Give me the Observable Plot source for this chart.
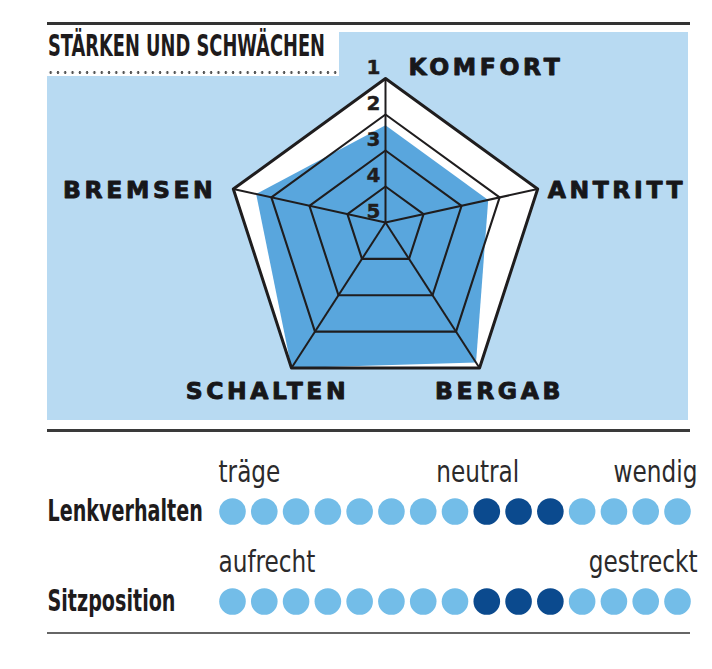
<!DOCTYPE html>
<html><head><meta charset="utf-8">
<script src="https://cdn.jsdelivr.net/npm/d3@7"></script>
<script src="https://cdn.jsdelivr.net/npm/@observablehq/plot@0.6"></script>
<style>
html,body{margin:0;padding:0;background:#fff}
body{width:712px;height:669px;position:relative;overflow:hidden;font-family:"DejaVu Sans",sans-serif}
.rule{position:absolute;left:47px;width:643px;background:#333}
#panel{position:absolute;left:47px;top:32px;width:641px;height:388px;background:#b8daf2}
#titlebox{position:absolute;left:47px;top:30px;width:292px;height:46px;background:#fff}
#title{position:absolute;left:1px;top:-1px;white-space:nowrap;font-family:"DejaVu Sans Condensed","DejaVu Sans",sans-serif;font-stretch:condensed;font-weight:bold;font-size:30px;line-height:34px;color:#1e1b1c;transform-origin:0 0}
#dots{position:absolute;left:0;top:41px;width:291px;height:3px;background-image:radial-gradient(circle,#555 1.1px,transparent 1.5px);background-size:7.3px 3px;background-repeat:repeat-x}
#radar{position:absolute;left:47px;top:32px}
#scales{position:absolute;left:0;top:430px}
</style></head>
<body>
<div class="rule" style="top:22px;height:3px"></div>
<div id="panel"></div>
<div id="radar"></div>
<div id="titlebox"><div id="title">STÄRKEN UND SCHWÄCHEN</div><div id="dots"></div></div>
<div class="rule" style="top:429px;height:3px;background:#3a3a3a"></div>
<div id="scales"></div>
<div class="rule" style="top:632px;height:2px;background:#666"></div>
<script>
// ---- data ----
const categories = ["KOMFORT", "ANTRITT", "BERGAB", "SCHALTEN", "BREMSEN"];
const scores = [2.3, 2.3, 1.15, 1.0, 1.6];          // 1 = best (outer), 5 = centre
const ringValues = [1, 2, 3, 4];                     // drawn pentagon rings
const scaleTicks = [1, 2, 3, 4, 5];                  // numbers on the top spoke
const labelAnchor = ["start", "start", "middle", "middle", "end"];
const labelDx = [23, 10, 20, -24, -17];
const labelDy = [-11, 1.5, 24, 24, 1.5];

const positions = d3.range(1, 16);                   // 15 dots per row
const rows = ["Lenkverhalten", "Sitzposition"];
const lenkMarked = [9, 10, 11];
const sitzMarked = [9, 10, 11];
const lenkPoles = ["träge", "neutral", "wendig"];
const lenkPolePos = [1, 9, 15];
const sitzPoles = ["aufrecht", "gestreckt"];
const sitzPolePos = [1, 15];

// ---- radar geometry ----
const W = 641, H = 388, cx = 338, cy = 190, R = 160;
const shift = -0.1; // spokes meet slightly above pentagon's circumcentre
function pt(k, v) {
  const t = (5 - v) / 4, a = k * 2 * Math.PI / 5;
  return {x: t * Math.sin(a), y: t * (shift + Math.cos(a))};
}
const outer = categories.map((c, k) => ({...pt(k, 1), k, c}));
const ringPts = ringValues.flatMap(v => categories.map((c, k) => ({...pt(k, v), v})));
const scorePts = scores.map((s, k) => pt(k, s));
const tickPts = scaleTicks.map(v => ({...pt(0, v), label: String(v)}));

const radar = Plot.plot({
  width: W, height: H, margin: 0,
  x: {domain: [-cx / R, (W - cx) / R], axis: null},
  y: {domain: [-(H - cy) / R, cy / R], axis: null},
  style: {background: "transparent", overflow: "visible"},
  marks: [
    Plot.line(outer, {x: "x", y: "y", curve: "linear-closed", fill: "#ffffff", stroke: "none"}),
    Plot.line(scorePts, {x: "x", y: "y", curve: "linear-closed", fill: "#59a6dd", stroke: "none"}),
    Plot.line(ringPts.filter(d => d.v > 1), {x: "x", y: "y", z: "v", curve: "linear-closed", stroke: "#1f1d1e", strokeWidth: 2.1}),
    Plot.link(outer, {x1: 0, y1: 0, x2: "x", y2: "y", stroke: "#1f1d1e", strokeWidth: 2}),
    Plot.line(outer, {x: "x", y: "y", curve: "linear-closed", stroke: "#1f1d1e", strokeWidth: 3}),
    Plot.text(tickPts, {x: "x", y: "y", text: "label", dx: -12, dy: -11, fontSize: 20, fontWeight: "bold", fill: "#1f1d1e", stroke: "#1f1d1e", strokeWidth: 0.4, fontFamily: "DejaVu Sans"}),
    ...outer.map((d, k) => Plot.text([d], {x: "x", y: "y", text: "c",
      textAnchor: labelAnchor[k], dx: labelDx[k], dy: labelDy[k],
      fontSize: 23.5, fontWeight: "bold", fill: "#17171a", stroke: "#17171a", strokeWidth: 0.9, fontFamily: "DejaVu Sans"}))
  ]
});
d3.select(radar).selectAll("text").filter(function() { return categories.includes(this.textContent); })
  .style("letter-spacing", "3.6px");
document.getElementById("radar").appendChild(radar);

// ---- dot scales ----
const dotData = rows.flatMap(r => positions.map(p => ({row: r, p,
  on: (r === "Lenkverhalten" ? lenkMarked : sitzMarked).includes(p)})));
const poleData = [
  ...lenkPoles.map((t, i) => ({row: rows[0], p: lenkPolePos[i], t, a: i === 0 ? "start" : i === lenkPoles.length - 1 ? "end" : "middle"})),
  ...sitzPoles.map((t, i) => ({row: rows[1], p: sitzPolePos[i], t, a: i === 0 ? "start" : "end"}))
];
const condensed = "DejaVu Sans Condensed, DejaVu Sans, sans-serif";
const poleText = (a, dx) => Plot.text(poleData.filter(d => d.a === a), {x: "p", y: "row", text: "t",
  textAnchor: a, dx, dy: -30, lineAnchor: "bottom", fontSize: 30, fill: "#2b2a2b", fontFamily: condensed});
const scales = Plot.plot({
  width: 712, height: 239, marginLeft: 232, marginRight: 35, marginTop: 0, marginBottom: 0,
  x: {domain: [1, 15], axis: null},
  y: {type: "point", domain: rows, range: [81, 171], padding: 0, axis: null},
  style: {background: "transparent", overflow: "visible"},
  marks: [
    Plot.dot(dotData, {x: "p", y: "row", r: 13.3, fill: d => d.on ? "#0b4a8e" : "#73bde8", stroke: "none"}),
    poleText("start", -14),
    poleText("middle", -9),
    poleText("end", 20),
    Plot.axisY({tickSize: 0, tickPadding: 185, textAnchor: "start", fontSize: 30, fontWeight: "bold", fill: "#1e1b1c", fontFamily: condensed, label: null})
  ]
});
document.getElementById("scales").appendChild(scales);

// squeeze condensed texts horizontally about their anchor (reference uses a narrower face)
function squeeze(sel, f) {
  sel.each(function() {
    const tr = this.getAttribute("transform");
    if (tr && /translate/.test(tr)) {
      this.setAttribute("transform", tr + ` scale(${f},1)`);
    } else {
      const x = +(this.getAttribute("x") || 0);
      this.setAttribute("transform", (tr || "") + ` translate(${x},0) scale(${f},1) translate(${-x},0)`);
    }
  });
}
const allT = d3.select(scales).selectAll("text");
squeeze(allT.filter(function() { return rows.includes(this.textContent); }), 0.71);
squeeze(allT.filter(function() { return !rows.includes(this.textContent); }), 0.86);

// fit condensed title width
const title = document.getElementById("title");
const tw = title.getBoundingClientRect().width;
title.style.transform = `scaleX(${277 / tw})`;
</script>
</body></html>
